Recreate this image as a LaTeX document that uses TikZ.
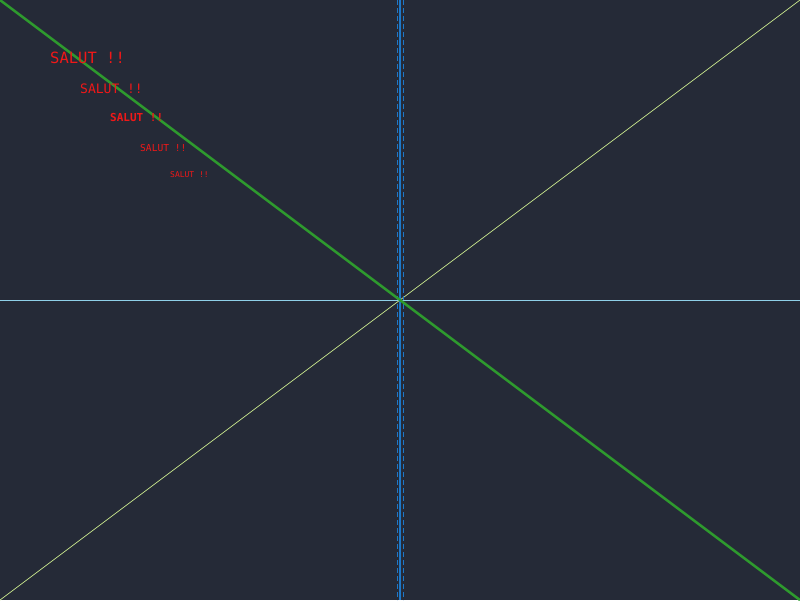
\documentclass[tikz,border=0pt]{standalone}
\usepackage{fontspec}
\newfontfamily\monofont{DejaVu Sans Mono}
\definecolor{bg}{HTML}{252A37}
\definecolor{txtred}{HTML}{F01818}
\definecolor{diagg}{HTML}{2E9A2E}
\definecolor{diagy}{HTML}{C8E68C}
\definecolor{axb}{HTML}{1E78C8}
\definecolor{axc}{HTML}{8FD0E8}
\begin{document}
\begin{tikzpicture}[x=1pt,y=-1pt,
  salut/.style={anchor=base west,inner sep=0pt,text=txtred,font=\monofont}]
\fill[bg] (0,0) rectangle (800,600);
\useasboundingbox (0,0) rectangle (800,600);
\coordinate (tl) at (0,0);
\coordinate (br) at (800,600);
\coordinate (bl) at (0,600);
\coordinate (tr) at (800,0);
\coordinate (ml) at (0,300);
\coordinate (mr) at (800,300);
\coordinate (vt) at (400,0);
\coordinate (vb) at (400,600);
\coordinate (dlt) at (397,0);
\coordinate (dlb) at (397,600);
\coordinate (drt) at (403,0);
\coordinate (drb) at (403,600);
\draw[diagy,line width=0.7pt] (bl) -- (tr);
\draw[axb,line width=0.9pt,dash pattern=on 5pt off 3pt] (dlt) -- (dlb);
\draw[axb,line width=0.9pt,dash pattern=on 5pt off 3pt] (drt) -- (drb);
\draw[axb,line width=1.6pt] (vt) -- (vb);
\draw[axc,line width=1pt] (ml) -- (mr);
\draw[diagg,line width=2.5pt] (tl) -- (br);
\node[salut,font=\monofont\fontsize{15.5}{15.5}\selectfont] (s1) at (50,63.5) {SALUT !!};
\node[salut,font=\monofont\fontsize{13}{13}\selectfont] (s2) at (80,93) {SALUT !!};
\node[salut,font=\monofont\bfseries\fontsize{11}{11}\selectfont] (s3) at (110,121) {SALUT !!};
\node[salut,font=\monofont\fontsize{9.6}{9.6}\selectfont] (s4) at (140,151) {SALUT !!};
\node[salut,font=\monofont\fontsize{8}{8}\selectfont] (s5) at (170,177) {SALUT !!};
\end{tikzpicture}
\end{document}
